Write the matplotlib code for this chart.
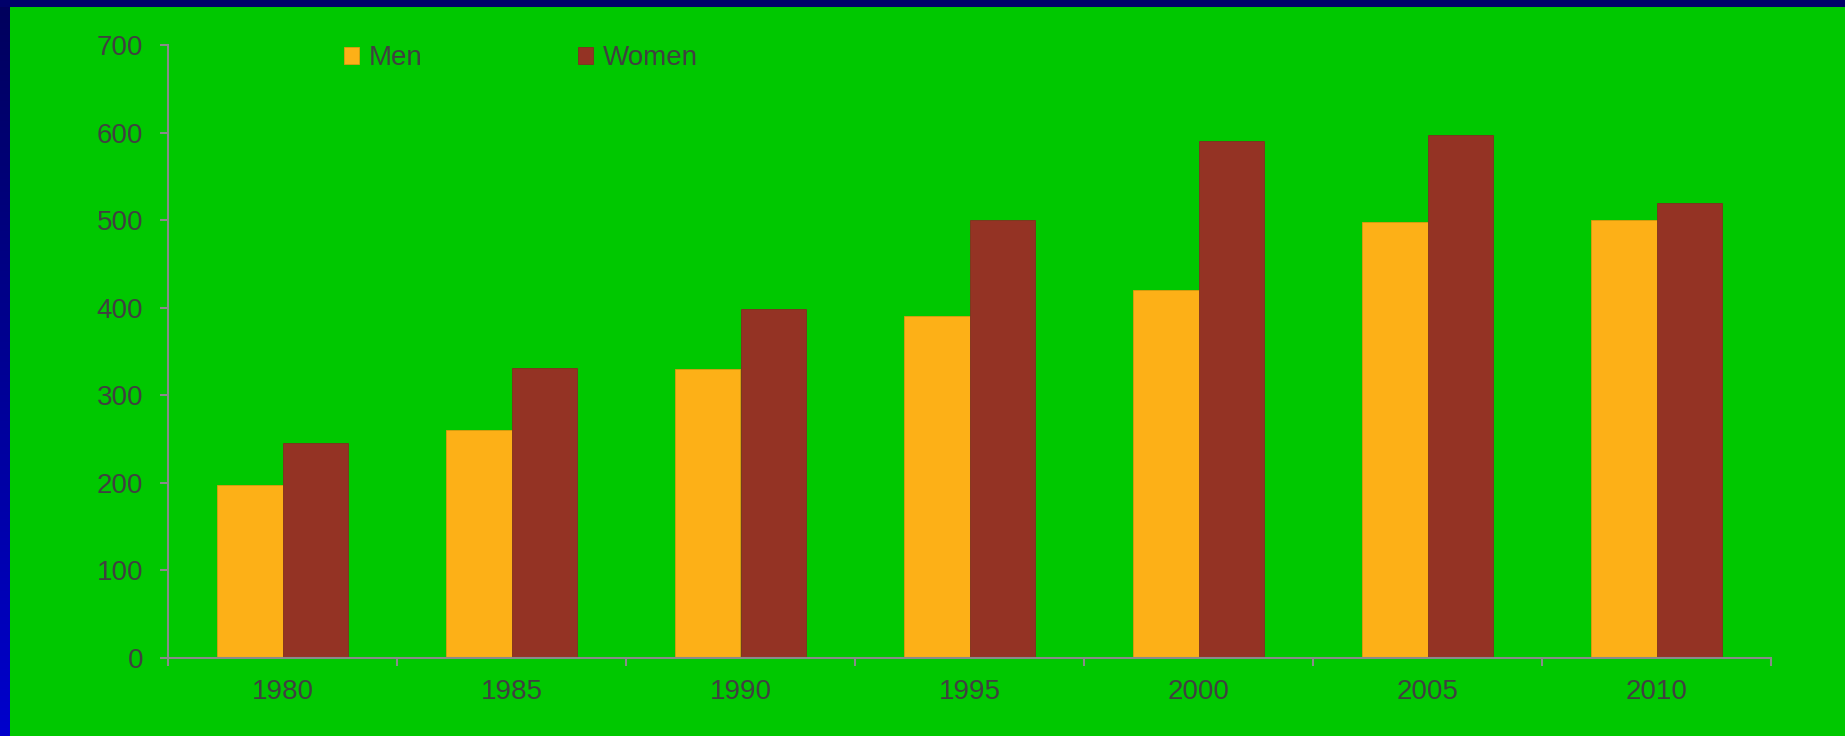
import matplotlib
matplotlib.use('Agg')
import matplotlib.pyplot as plt
from matplotlib.patches import Rectangle
from matplotlib.ticker import FixedLocator
import numpy as np

# data
years = ['1980', '1985', '1990', '1995', '2000', '2005', '2010']
men = [198, 260, 330, 390, 420, 498, 500]
women = [246, 331, 399, 500, 590, 597, 520]
y_ticks = [0, 100, 200, 300, 400, 500, 600, 700]

GREEN = '#00C800'
MEN_C = '#FDB017'
WOMEN_C = '#943324'
TXT = '#404040'
AXC = '#8A8A8A'

plt.rcParams['font.family'] = ['Liberation Sans', 'DejaVu Sans']

fig = plt.figure(figsize=(18.45, 7.36), dpi=100)
fig.patch.set_facecolor(GREEN)

# border: dark navy strip on top, blue gradient strip on the left
# (dark at the top, brighter blue towards the bottom)
W, H = 1845, 736
left = fig.add_axes([0, 0, 10 / W, 1])
rgb = np.zeros((256, 1, 3))
rgb[:, 0, 2] = np.linspace(0.80, 0.36, 256)  # row 0 = bottom
left.imshow(rgb, aspect='auto', origin='lower', extent=[0, 1, 0, 1])
left.set_axis_off()
top = fig.add_axes([0, 1 - 7 / H, 1, 7 / H])
top.set_axis_off()
top.add_patch(Rectangle((0, 0), 1, 1, color='#00006A', transform=top.transAxes))

ax = fig.add_axes([168 / W, 1 - 658 / H, (1771 - 168) / W, (658 - 45) / H])
ax.set_facecolor(GREEN)

x = np.arange(len(years))
bw = 0.285
ax.bar(x - bw / 2, men, bw, color=MEN_C, label='Men', edgecolor='#E09A10', linewidth=0.6)
ax.bar(x + bw / 2, women, bw, color=WOMEN_C, label='Women', edgecolor='#803020', linewidth=0.6)

ax.set_xlim(-0.5, len(years) - 0.5)
ax.set_ylim(0, 700)
ax.set_yticks(y_ticks)
ax.set_xticks(x)
ax.set_xticklabels(years)
ax.xaxis.set_minor_locator(FixedLocator(np.arange(-0.5, len(years), 1)))

for s in ['top', 'right']:
    ax.spines[s].set_visible(False)
for s in ['left', 'bottom']:
    ax.spines[s].set_color(AXC)
    ax.spines[s].set_linewidth(1.5)

ax.tick_params(axis='y', colors=AXC, labelcolor=TXT, labelsize=20, length=6, width=1.5, pad=12)
ax.tick_params(axis='x', which='major', length=0, labelcolor=TXT, labelsize=20, pad=15)
ax.tick_params(axis='x', which='minor', colors=AXC, length=6, width=1.5)

leg = ax.legend(loc='upper left', bbox_to_anchor=(0.094, 1.04), ncol=2, frameon=False,
                fontsize=20, handlelength=0.55, handleheight=0.55, handletextpad=0.35,
                columnspacing=5.6, labelcolor=TXT)

fig.savefig('out.png', dpi=100, facecolor=fig.get_facecolor())
